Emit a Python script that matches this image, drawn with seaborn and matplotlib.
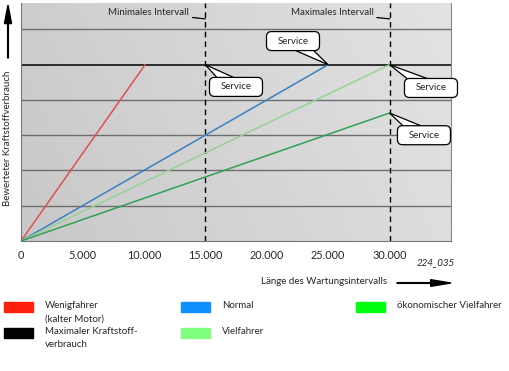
import numpy as np
import pandas as pd
import matplotlib
matplotlib.use("Agg")
import matplotlib.pyplot as plt
import seaborn as sns
from matplotlib.patches import Rectangle, FancyBboxPatch, Polygon
from matplotlib.transforms import IdentityTransform

# ---- data ----
series_names = ["Wenigfahrer", "Normal", "Vielfahrer", "ökonomischer Vielfahrer"]
series_end_x = [10100, 25000, 30000, 30000]
series_end_y = [5.0, 5.0, 5.0, 3.63]
line_colors = ["#e05050", "#3a80c0", "#98d098", "#30a058"]

x_ticks = [0, 5000, 10000, 15000, 20000, 25000, 30000, 35000]
x_ticklabels = ["0", "5.000", "10.000", "15.000", "20.000", "25.000", "30.000", ""]
grid_levels = [1, 2, 3, 4, 6]
max_level = 5
interval_x = [15000, 30000]
interval_labels = ["Minimales Intervall", "Maximales Intervall"]

service_points_x = [15000, 25000, 30000, 30000]
service_points_y = [5.0, 5.0, 5.0, 3.63]
service_text_x = [17500, 22140, 33370, 32800]
service_text_y = [4.37, 5.67, 4.34, 3.0]

legend_labels = ["Wenigfahrer\n(kalter Motor)", "Maximaler Kraftstoff-\nverbrauch",
                 "Normal", "Vielfahrer", "ökonomischer Vielfahrer"]
legend_colors = ["#ff2010", "#000000", "#1090ff", "#80ff80", "#00ff10"]

rows = []
for n, ex, ey in zip(series_names, series_end_x, series_end_y):
    rows.append({"series": n, "x": 0, "y": 0})
    rows.append({"series": n, "x": ex, "y": ey})
df = pd.DataFrame(rows)

# ---- figure ----
sns.set_style("white")
plt.rcParams["font.family"] = ["Lato", "DejaVu Sans"]
FS = 7.0
W, H = 509, 371
fig = plt.figure(figsize=(W / 100, H / 100), dpi=100)
L, R, T, B = 21, 451, 3, 241
ax = fig.add_axes([L / W, 1 - B / H, (R - L) / W, (B - T) / H])
ax.set_xlim(0, 35000)
ax.set_ylim(0, 6.75)

# background gradient
gx = np.linspace(0, 1, 200)
gy = np.linspace(0, 1, 100)
GX, GY = np.meshgrid(gx, gy)
val = 0.785 + 0.085 * GX + 0.02 * GY
ax.imshow(np.dstack([val, val, val]), extent=[0, 35000, 0, 6.75], origin="lower",
          aspect="auto", zorder=0)

for g in grid_levels:
    ax.axhline(g, color="#6e6e6e", lw=1.0, zorder=1)
ax.axhline(max_level, color="#000000", lw=1.1, zorder=1)
for xv in interval_x:
    ax.axvline(xv, color="#000000", lw=1.0, ls=(0, (4, 3)), zorder=2)

sns.lineplot(data=df, x="x", y="y", hue="series", palette=line_colors,
             hue_order=series_names, ax=ax, legend=False, lw=1.1, zorder=3)

ax.set_xticks(x_ticks)
ax.set_xticklabels(x_ticklabels, fontsize=7.8)
ax.set_yticks([])
ax.set_xlabel("")
ax.set_ylabel("")
ax.tick_params(axis="x", direction="out", length=5, width=0.8, color="#555555", pad=1.5)
ax.spines["top"].set_visible(False)
ax.spines["right"].set_color("#888888")
ax.spines["left"].set_color("#777777")
ax.spines["bottom"].set_color("#777777")
for s in ["left", "bottom", "right"]:
    ax.spines[s].set_linewidth(0.8)

# interval labels
for xv, lab in zip(interval_x, interval_labels):
    ax.annotate(lab, xy=(xv, 6.30), xytext=(xv - 1300, 6.47), ha="right", va="center",
                fontsize=FS, arrowprops=dict(arrowstyle="-", color="black", lw=0.9,
                                             shrinkA=0, shrinkB=0), annotation_clip=False)

# service callouts (speech bubbles, drawn in pixel space)
idt = IdentityTransform()
BW, BH = 53, 19
for px, py, tx, ty in zip(service_points_x, service_points_y, service_text_x, service_text_y):
    P = ax.transData.transform((px, py))
    C = ax.transData.transform((tx, ty))
    d = P - C
    d = d / np.hypot(*d)
    nrm = np.array([-d[1], d[0]])
    base = C + d * 4
    tri = Polygon([base + nrm * 7, base - nrm * 7, P], closed=True, fc="white", ec="black",
                  lw=0.9, transform=idt, zorder=5, clip_on=False)
    ax.add_patch(tri)
    box = FancyBboxPatch((C[0] - BW / 2, C[1] - BH / 2), BW, BH,
                         boxstyle="round,pad=0,rounding_size=5", fc="white", ec="black",
                         lw=0.9, transform=idt, zorder=6, clip_on=False)
    ax.add_patch(box)
    ax.add_patch(Polygon([base + nrm * 6.2, base - nrm * 6.2, C], closed=True, fc="white",
                         ec="none", transform=idt, zorder=6.5, clip_on=False))
    ax.text(tx, ty, "Service", ha="center", va="center", fontsize=FS, zorder=7)

# axis titles with arrows
fig.text(8 / W, 1 - 138 / H, "Bewerteter Kraftstoffverbrauch", rotation=90, ha="center",
         va="center", fontsize=FS)
fig.patches.append(matplotlib.patches.FancyArrow(8 / W, 1 - 58 / H, 0, (58 - 5) / H,
                   width=0.0015, head_width=0.014, head_length=0.05, length_includes_head=True,
                   color="black", transform=fig.transFigure, figure=fig))
fig.text(324 / W, 1 - 281 / H, "Länge des Wartungsintervalls", ha="center", va="center",
         fontsize=FS)
fig.patches.append(matplotlib.patches.FancyArrow(397 / W, 1 - 283 / H, (451 - 397) / W, 0,
                   width=0.002, head_width=0.018, head_length=0.04, length_includes_head=True,
                   color="black", transform=fig.transFigure, figure=fig))
fig.text(436 / W, 1 - 263 / H, "224_035", ha="center", va="center", fontsize=FS,
         style="italic")

# legend
leg_pos = [(4, 302), (4, 328), (181, 302), (181, 328), (356, 302)]
for (lx, ly), lab, col in zip(leg_pos, legend_labels, legend_colors):
    fig.patches.append(Rectangle((lx / W, 1 - (ly + 10) / H), 29 / W, 10 / H,
                                 color=col, transform=fig.transFigure, figure=fig))
    fig.text((lx + 41) / W, 1 - (ly - 0.5) / H, lab, ha="left", va="top", fontsize=FS,
             linespacing=1.55)

fig.savefig("out.png", dpi=100)
